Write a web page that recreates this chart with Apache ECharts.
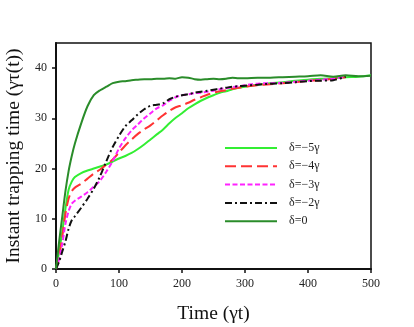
<!DOCTYPE html>
<html>
<head>
<meta charset="utf-8">
<script src="https://cdn.jsdelivr.net/npm/echarts@6/dist/echarts.min.js"></script>
<style>
  html, body { margin: 0; padding: 0; background: #fff; }
  #chart { width: 414px; height: 327px; }
</style>
</head>
<body>
<div id="chart"></div>
<script>
// time axis (γt)
const times = [0, 5, 10, 15, 20, 25, 30, 40, 50, 60, 70, 80, 90, 100, 110, 120, 130, 140, 150, 160, 170, 180, 190, 200,
  210, 220, 230, 240, 250, 260, 270, 280, 290, 300, 320, 340, 360, 380, 400, 420, 440, 460, 480, 500]

const seriesNames = ['δ=−5γ', 'δ=−4γ', 'δ=−3γ', 'δ=−2γ', 'δ=0']

const delta5 = [0, 3.5, 7.5, 12, 15.8, 17.4, 18.3, 19.1, 19.6, 20, 20.4, 20.8, 21.4, 22, 22.5, 23.1, 23.9, 24.8, 25.8, 26.8,
  27.8, 29, 30.1, 31, 32, 32.8, 33.5, 34.1, 34.6, 35.1, 35.4, 35.8, 36.1, 36.3, 36.7, 37, 37.2, 37.5, 37.7, 37.9, 38, 38.2,
  38.3, 38.6]
const delta4 = [0, 2.5, 6.5, 11, 14, 15.5, 16.2, 17, 18, 19, 19.8, 20.8, 21.8, 23.2, 24.6, 25.8, 26.9, 27.8, 28.6, 29.6,
  30.6, 31.5, 32.2, 32.6, 33.1, 33.7, 34.2, 34.7, 35.1, 35.4, 35.6, 35.9, 36.1, 36.3, 36.6, 36.8, 37, 37.2, 37.5, 37.6,
  37.9, 38.2]
const delta3 = [0, 2, 5, 9, 11.5, 13, 13.6, 14.4, 15.3, 16.4, 17.6, 19.4, 21.5, 24, 26, 27.6, 28.8, 30, 31, 32, 32.6,
  33.5, 34.2, 34.6, 34.8, 35, 35.1, 35.3, 35.5, 35.8, 36, 36.2, 36.4, 36.6, 36.9, 37, 37.1, 37.3, 37.5, 37.7, 37.9, 38.3]
const delta2 = [0, 1.5, 3.5, 5.5, 8, 9.7, 10.5, 12.2, 14, 16, 18.5, 21.5, 24.3, 26.5, 28.4, 29.6, 30.8, 31.8, 32.5, 32.7,
  33, 33.8, 34.3, 34.6, 34.8, 35.1, 35.3, 35.5, 35.7, 35.9, 36.1, 36.3, 36.4, 36.5, 36.7, 36.9, 37, 37.2, 37.4, 37.5,
  37.6, 38.3]
const delta0 = [0, 5.5, 10.5, 15.5, 19.5, 22.5, 25, 29, 32.4, 34.6, 35.6, 36.3, 37, 37.3, 37.4, 37.6, 37.7, 37.8, 37.8,
  37.9, 37.9, 38, 37.9, 38.2, 38.1, 37.8, 37.7, 37.8, 37.9, 37.8, 37.9, 38.1, 38, 38, 38.1, 38.1, 38.2, 38.3, 38.4, 38.6,
  38.3, 38.6, 38.4, 38.5]

const yTicks = [0, 10, 20, 30, 40]
const xTicks = [0, 100, 200, 300, 400, 500]

const pairs = (vals) => vals.map((v, i) => [times[i], v])

const serif = 'Liberation Serif'
const chart = echarts.init(document.getElementById('chart'))

const lineSeries = (name, vals, color, type) => ({
  name: name,
  type: 'line',
  data: pairs(vals),
  symbol: 'none',
  smooth: 0.3,
  lineStyle: { color: color, width: 2, type: type },
  itemStyle: { color: color },
  z: 3,
})

const option = {
  animation: false,
  grid: {
    left: 56,
    right: 43,
    top: 43,
    bottom: 58,
    outerBoundsMode: 'none',
    show: true,
    borderColor: '#111',
    borderWidth: 1.5,
  },
  legend: {
    orient: 'vertical',
    left: 224,
    top: 142,
    padding: 0,
    itemWidth: 52,
    itemHeight: 10,
    itemGap: 6.3,
    selectedMode: false,
    itemStyle: { opacity: 0 }, // hide the dot, keep the line
    textStyle: {
      fontFamily: serif,
      fontSize: 12,
      color: '#222',
      padding: [0, 0, 0, 7],
    },
    data: seriesNames,
  },
  xAxis: {
    type: 'value',
    min: 0,
    max: 500,
    interval: 100,
    name: 'Time (γt)',
    nameLocation: 'middle',
    nameGap: 35,
    nameTextStyle: { fontFamily: serif, fontSize: 19.5, color: '#111' },
    axisLine: { lineStyle: { color: '#111', width: 2 } },
    axisTick: { show: true, length: 4, lineStyle: { color: '#111', width: 1.5 }, customValues: xTicks },
    axisLabel: { fontFamily: serif, fontSize: 12, color: '#222', margin: 9, customValues: xTicks },
    splitLine: { show: false },
  },
  yAxis: {
    type: 'value',
    min: 0,
    max: 45,
    interval: 10,
    name: 'Instant trapping time (γτ(t))',
    nameLocation: 'middle',
    nameGap: 26,
    nameTextStyle: { fontFamily: serif, fontSize: 19.5, color: '#111' },
    axisLine: { show: true, lineStyle: { color: '#111', width: 2 } },
    axisTick: { show: true, length: 4, lineStyle: { color: '#111', width: 1.5 }, customValues: yTicks },
    axisLabel: { fontFamily: serif, fontSize: 12, color: '#222', margin: 9, customValues: yTicks },
    splitLine: { show: false },
  },
  series: [
    lineSeries(seriesNames[0], delta5, '#33ee33', 'solid'),
    lineSeries(seriesNames[1], delta4, '#ff3333', [11, 5]),
    lineSeries(seriesNames[2], delta3, '#ff22ff', [5, 2.5]),
    lineSeries(seriesNames[3], delta2, '#111111', [7, 3, 2, 3]),
    lineSeries(seriesNames[4], delta0, '#2a8c2a', 'solid'),
  ],
}

chart.setOption(option)
</script>
</body>
</html>
